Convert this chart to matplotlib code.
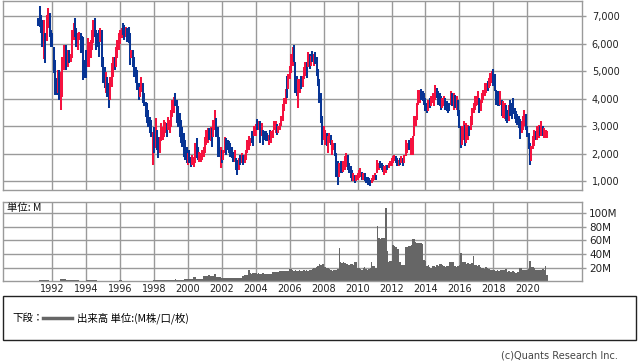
import matplotlib
matplotlib.use('Agg')
import matplotlib.pyplot as plt
import numpy as np
from matplotlib.patches import Rectangle
from matplotlib.lines import Line2D
from matplotlib.ticker import FuncFormatter

plt.rcParams['font.family'] = ['DejaVu Sans', 'Noto Sans CJK JP']

# monthly bars, Mar 1991 .. Mar 2021 (one row per year)
high = [
    6930, 7370, 7040, 6860, 6860, 6400, 7050, 7300, 7100, 6500,  # 1991 Mar-Dec
    6400, 5880, 5410, 4770, 5050, 5050, 4970, 5520, 5950, 5590, 5950, 5770,  # 1992
    5770, 5640, 6500, 6750, 6930, 6570, 6390, 6420, 6390, 6280, 6250, 5400,  # 1993
    5770, 6210, 6050, 6130, 6500, 6860, 6930, 6500, 6390, 6500, 6570, 6500,  # 1994
    5520, 5160, 4970, 4800, 4570, 4780, 5300, 5520, 5500, 5880, 6130, 6390,  # 1995
    6500, 6570, 6750, 6670, 6620, 6570, 6620, 6390, 5770, 5770, 5520, 5160,  # 1996
    5050, 4560, 4440, 4800, 4560, 4200, 3900, 3840, 3600, 3350, 3230, 2810,  # 1997
    2990, 3290, 2870, 2630, 2630, 3110, 2990, 3230, 3170, 3110, 3350, 3230,  # 1998
    3600, 3960, 4080, 4220, 3960, 3720, 3470, 3230, 2990, 2750, 2510, 2260,  # 1999
    2020, 2140, 1900, 1960, 1900, 2390, 2570, 2260, 2080, 2020, 2140, 2260,  # 2000
    2630, 2870, 2930, 2930, 2990, 2930, 3230, 3600, 3290, 2990, 2630, 2260,  # 2001
    2140, 2140, 2630, 2570, 2510, 2450, 2390, 2260, 2080, 2140, 1840, 1780,  # 2002
    1840, 1960, 2020, 1960, 1970, 2150, 2520, 2640, 2580, 2820, 2760, 3010,  # 2003
    3070, 3250, 3190, 3190, 3130, 2880, 2820, 2820, 2760, 2700, 2880, 2820,  # 2004
    2880, 3190, 3190, 3070, 3010, 3130, 3370, 3800, 4040, 4340, 4830, 4890,  # 2005
    5200, 5620, 5870, 5950, 5320, 4830, 4710, 4710, 4830, 4830, 5140, 5320,  # 2006
    5320, 5680, 5620, 5560, 5740, 5620, 5710, 5500, 5080, 4710, 4220, 3370,  # 2007
    3010, 2880, 2760, 2640, 2760, 2700, 2520, 2400, 2400, 2030, 1730, 1670,  # 2008
    1730, 1670, 1730, 1910, 2030, 1970, 1670, 1550, 1420, 1300, 1240, 1240,  # 2009
    1300, 1420, 1480, 1360, 1300, 1300, 1180, 1180, 1120, 1060, 1120, 1240,  # 2010
    1300, 1240, 1790, 1670, 1730, 1670, 1610, 1550, 1610, 1610, 1670, 1730,  # 2011
    1850, 1910, 1970, 1910, 1850, 1790, 1850, 1910, 1850, 1970, 2520, 2390,  # 2012
    2520, 2450, 2580, 2640, 3360, 3360, 3850, 4330, 4330, 4360, 4270, 4210,  # 2013
    4030, 3850, 3970, 4030, 4090, 4210, 4210, 4510, 4390, 4270, 4210, 4090,  # 2014
    4030, 4090, 4030, 3910, 3850, 3850, 4270, 4210, 4210, 4150, 4090, 3970,  # 2015
    3610, 3000, 3000, 3180, 3060, 3120, 3060, 3000, 3370, 3670, 3850, 4090,  # 2016
    4090, 4270, 4030, 3970, 4210, 4330, 4580, 4580, 4640, 4760, 4940, 5000,  # 2017
    5080, 4880, 4330, 4270, 4090, 4270, 3970, 3910, 3850, 3790, 3610, 3790,  # 2018
    3970, 3850, 4030, 3670, 3550, 3430, 3370, 3250, 3180, 3370, 3610, 3430,  # 2019
    3000, 2760, 2400, 2280, 2640, 2880, 2820, 3000, 3060, 3000, 3180, 3000,  # 2020
    2940, 2880, 2820,  # 2021 Jan-Mar
]

low = [
    6650, 6600, 6400, 5880, 5450, 5300, 6100, 6570, 6250, 5880,
    5880, 4950, 4140, 4140, 4200, 3960, 3600, 4070, 5050, 5230, 5050, 5160,
    5300, 5350, 5480, 6130, 6250, 5880, 5770, 6120, 5660, 5770, 4680, 4750,
    4750, 5160, 5160, 5480, 5770, 6030, 6250, 5770, 5880, 5520, 6070, 5160,
    4570, 4380, 4200, 4070, 3660, 3960, 4430, 4790, 5060, 5160, 5480, 5770,
    5990, 6220, 6310, 6130, 6240, 6060, 6030, 5230, 5470, 5160, 4790, 4570,
    4320, 3960, 4080, 4260, 3840, 3720, 3350, 3110, 2990, 2750, 2630, 1600,
    2020, 2200, 2140, 1840, 2020, 2450, 2510, 2630, 2750, 2630, 2870, 2750,
    2990, 3350, 3470, 3720, 3110, 2990, 2630, 2390, 2260, 1900, 1780, 1660,
    1600, 1660, 1540, 1600, 1540, 1660, 1840, 1780, 1720, 1720, 1780, 1900,
    2020, 2320, 2390, 2510, 2450, 2260, 2630, 2870, 2630, 1900, 1900, 1480,
    1660, 1780, 2020, 1960, 2140, 2020, 1900, 1840, 1720, 1720, 1420, 1240,
    1420, 1600, 1660, 1600, 1660, 1790, 2030, 2150, 2280, 2400, 2280, 2640,
    2640, 2880, 2880, 2400, 2640, 2340, 2520, 2460, 2460, 2340, 2520, 2400,
    2580, 2880, 2760, 2700, 2760, 2880, 3010, 3190, 3550, 3800, 4040, 4340,
    4710, 4950, 5200, 5320, 4220, 4100, 3680, 4220, 4340, 4410, 4710, 4830,
    4770, 5140, 5080, 5200, 5320, 5200, 5260, 4830, 4470, 3860, 3130, 2340,
    2520, 2340, 2280, 2030, 2400, 2340, 1970, 2150, 1910, 1180, 880, 1180,
    1300, 1300, 1360, 1420, 1540, 1420, 1300, 1120, 1000, 1000, 940, 1000,
    1060, 1120, 1180, 1060, 1060, 1000, 940, 880, 880, 840, 940, 1000,
    1040, 1060, 1300, 1420, 1480, 1420, 1360, 1240, 1300, 1420, 1480, 1550,
    1550, 1670, 1730, 1670, 1550, 1550, 1610, 1670, 1570, 1670, 1910, 2030,
    2150, 2150, 1970, 1970, 2640, 3000, 3240, 3790, 3850, 3970, 3910, 3790,
    3550, 3480, 3550, 3670, 3730, 3850, 3730, 3970, 4030, 3790, 3730, 3610,
    3670, 3730, 3610, 3550, 3480, 3550, 3790, 3730, 3610, 3670, 3610, 3370,
    2940, 2220, 2340, 2520, 2280, 2400, 2520, 2640, 2880, 3060, 3490, 3610,
    3730, 3790, 3490, 3550, 3850, 3970, 4090, 4210, 4270, 4400, 4460, 4580,
    4460, 4270, 3790, 3730, 3730, 3790, 3370, 3310, 3250, 3180, 3120, 3180,
    3370, 3250, 3430, 3250, 3120, 3060, 2940, 2540, 2760, 2880, 3000, 2880,
    2620, 2160, 1580, 1730, 2160, 2280, 2520, 2520, 2580, 2640, 2640, 2640,
    2580, 2580, 2580,
]

# U = close above open (red), D = close below open (blue)
updown = (
    "DDDDUDUUDD"
    "DDDDUDUUUUDU" "DUUUDDUUDDDD" "DUUUUUDDDDUD" "DDUDDUUUDUUU"
    "UUDDUDDDUDDD" "DDUUDDDDDDDU" "DUDDUUUUUDUU" "UUUDDDDDDDDD"
    "UDDUUUDDUUUU" "UUUDUDUUDDDU" "DUUDDDDDDUDD" "UDUDUUUUUDDU"
    "UDUDUDDDDUDU" "UUUDUUUUUUDU" "UUUDDDUUDUUU" "DUDUDUDDDDDD"
    "UUDUUDUUDDDU" "DDUUUDDDDUDU" "UUUDUDDDDDUU" "UDUUDDDUUDUU"
    "UUUDDUDUDUUU" "DDUUUUUUUDDD" "DDUDUUUUDDDD" "UUDDDDUDUDUD"
    "DDUUDUUDUUUU" "UUDUUUUUDUUU" "DDDDDUDUUDDU" "DDDDDDDDUUUD"
    "DDDUUUDUUDUD" "UUU"
)

# volume, millions (same months)
volume = [
    1, 1.5, 1.5, 1.5, 1.5, 1.5, 1.5, 1.5, 1, 1,
    0.5, 0.5, 0.5, 0.5, 0.5, 0.5, 3.5, 4, 3.5, 3, 2, 2,
    2, 2, 2, 2, 2, 2, 1.5, 0.5, 0.5, 0.5, 0.5, 0.5,
    2, 2, 2, 2, 2, 2, 2, 1.5, 0.5, 0.5, 0.5, 0.5,
    0.4, 0.4, 0.4, 0.4, 0.4, 0.4, 0.4, 0.4, 0.4, 0.4, 0.4, 0.4,
    1.5, 1.5, 0.5, 0.4, 0.4, 0.4, 0.3, 0.3, 0.3, 0.3, 0.3, 0.3,
    0.3, 0.3, 0.3, 0.3, 0.3, 0.3, 0.3, 0.3, 0.3, 0.3, 0.3, 0.3,
    1.5, 1.5, 1.5, 1.5, 1.5, 1.5, 1.5, 1.5, 1.5, 1.5, 1.5, 1.5,
    1.5, 1.5, 1.5, 3.9, 2.5, 2.5, 2.5, 2.5, 2.5, 2.5, 3, 3,
    2.9, 2.9, 2.9, 2.9, 6.3, 6.3, 3.9, 3.9, 3.9, 3.9, 3.9, 7.8,
    7.5, 8.2, 7.8, 8.6, 7.2, 8.0, 7.6, 11, 6.0, 6.5, 6.2, 5.8,
    4.9, 5.2, 4.6, 4.9, 4.4, 4.8, 4.2, 4.6, 4.9, 4.4, 4.8, 5.0,
    5.2, 5.0, 5.5, 8.5, 8.8, 9.0, 8.6, 16.6, 11.7, 11.2, 12.0, 11.5,
    11.5, 11.0, 12.2, 11.4, 10.8, 11.6, 11.0, 10.6, 10.2, 10.0, 10.4, 10.2,
    13.6, 13.2, 13.8, 13.4, 13.6, 15, 14.6, 15.2, 14.8, 15.4, 15.0, 14.8,
    18.5, 18.5, 16.6, 15.2, 16.0, 15.0, 15.6, 16.2, 15.0, 15.8, 16.4, 15.6,
    16.0, 15.6, 16.4, 16.8, 18.5, 19, 20, 21, 22, 25, 24, 26,
    25, 21, 19, 20, 18, 16, 15, 17, 17, 17, 18, 49,
    28, 27, 28, 27, 26, 25, 24, 26, 25, 24, 28, 29,
    20, 19, 18, 17, 19, 21, 18, 17, 18, 19, 29, 22,
    22, 20, 81, 63, 62, 64, 63, 64, 108, 44, 29, 30,
    30, 53, 52, 51, 48, 47, 29, 24, 24, 24, 51, 50,
    52, 52, 53, 62, 62, 58, 56, 56, 56, 56, 55, 31,
    30, 22, 24, 21, 20, 22, 23, 21, 24, 22, 25, 25,
    24, 22, 21, 23, 22, 29, 29, 29, 28, 22, 21, 23,
    24, 41, 29, 29, 28, 26, 27, 25, 26, 27, 37, 24,
    24, 23, 24, 21, 20, 19, 18, 21, 19, 18, 17, 16,
    17, 16, 15, 16, 15, 17, 17, 16, 17, 18, 14, 15,
    13, 14, 15, 13, 12, 13, 13, 19, 19, 17, 17, 16,
    17, 18, 30, 21, 21, 20, 16, 17, 17, 16, 17, 18,
    17, 23, 9,
]

price_ticks = [1000, 2000, 3000, 4000, 5000, 6000, 7000]
volume_ticks = [20, 40, 60, 80, 100]
year_ticks = list(range(1992, 2021, 2))

RED = '#f5123f'
BLUE = '#073494'
GRID = '#9a9a9a'

n = len(high)
x = 1991 + (2 + np.arange(n)) / 12.0
colors = [RED if c == 'U' else BLUE for c in updown]

W, H = 638, 362
fig = plt.figure(figsize=(W / 100, H / 100), dpi=100)

ax1 = fig.add_axes([3 / W, 1 - 190 / H, 579 / W, 189.5 / H])
ax2 = fig.add_axes([3 / W, 1 - 281.3 / H, 579 / W, 79.6 / H])

for ax in (ax1, ax2):
    ax.set_xlim(1989.09, 2023.23)
    ax.set_xticks(year_ticks)
    ax.set_axisbelow(True)
    ax.grid(True, color=GRID, linewidth=1.0)
    for s in ax.spines.values():
        s.set_color(GRID)
        s.set_linewidth(1.0)
    ax.yaxis.tick_right()
    ax.tick_params(axis='y', colors=GRID, labelcolor='#222222', length=3,
                   width=1.0, pad=4)

# price panel
ax1.vlines(x, low, high, colors=colors, linewidth=1.45)
ax1.set_ylim(691, 7563)
ax1.set_yticks(price_ticks)
ax1.yaxis.set_major_formatter(FuncFormatter(lambda v, p: f"{int(v):,}"))
ax1.tick_params(axis='y', labelsize=7)
ax1.tick_params(axis='x', length=0, labelbottom=False)

# volume panel
ax2.bar(x, volume, width=1 / 12 + 0.004, color='#666666', linewidth=0,
        align='center')
ax2.set_ylim(0, 117)
ax2.set_yticks(volume_ticks)
ax2.yaxis.set_major_formatter(FuncFormatter(lambda v, p: f"{int(v)}M"))
ax2.tick_params(axis='y', labelsize=7.5, pad=2)
ax2.tick_params(axis='x', length=0, labelsize=7, labelcolor='#222222', pad=2)
ax2.text(0.007, 0.92, "単位: M", transform=ax2.transAxes, fontsize=7.5,
         va='center', ha='left', color='#111111',
         family=['Noto Sans CJK JP', 'DejaVu Sans'])

# legend box
fig.add_artist(Rectangle((3 / W, 1 - 340 / H), 633 / W, 44 / H,
                         transform=fig.transFigure, fill=False,
                         edgecolor='#222222', linewidth=1.0))
ly = 1 - 318 / H
fig.text(12 / W, ly, "下段：", fontsize=7.5, va='center',
         family=['Noto Sans CJK JP', 'DejaVu Sans'])
fig.add_artist(Line2D([43 / W, 72 / W], [ly, ly], transform=fig.transFigure,
                      color='#666666', linewidth=2.5))
fig.text(77 / W, ly, "出来高 単位:(M株/口/枚)", fontsize=7.5, va='center',
         family=['Noto Sans CJK JP', 'DejaVu Sans'])

fig.text(618 / W, 1 - 355 / H, "(c)Quants Research Inc.", fontsize=7,
         ha='right', va='center', color='#444444')

fig.savefig('out.png', dpi=100)
